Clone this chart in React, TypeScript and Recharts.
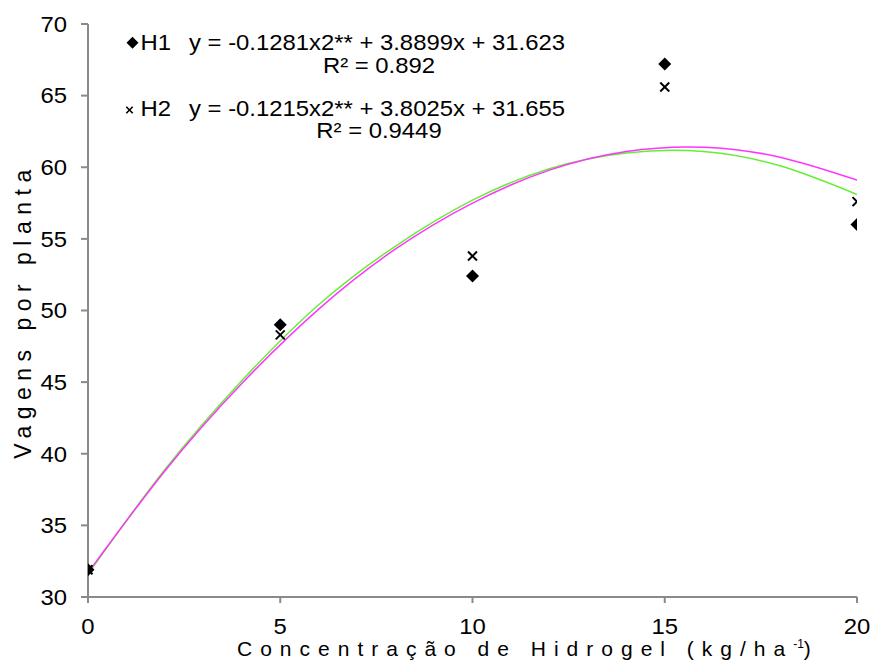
import { ComposedChart, Scatter, Line, XAxis, YAxis } from 'recharts';

// measured doses (kg/ha) and pods per plant
const doses = [0, 5, 10, 15, 20];
const h1Values = [31.9, 49.0, 52.4, 67.2, 56.0];
const h2Values = [31.9, 48.3, 53.8, 65.6, 57.6];

// trend curves
const curveX = [0, 2, 4, 6, 8, 10, 12, 14, 16, 18, 20];
const h1Curve = [31.6, 38.9, 45.1, 50.4, 54.5, 57.7, 59.9, 61.0, 61.1, 60.1, 58.1];
const h2Curve = [31.7, 38.8, 44.9, 50.1, 54.3, 57.5, 59.8, 61.1, 61.4, 60.7, 59.1];

const xTicks = [0, 5, 10, 15, 20];
const yTicks = [30, 35, 40, 45, 50, 55, 60, 65, 70];

const h1Label = 'H1';
const h2Label = 'H2';
const h1Eq = 'y = -0.1281x2** + 3.8899x + 31.623';
const h1R2 = 'R² = 0.892';
const h2Eq = 'y = -0.1215x2** + 3.8025x + 31.655';
const h2R2 = 'R² = 0.9449';

const FONT = '"Liberation Sans", Arial, sans-serif';
const AXIS = '#8a8a8a';
const SX = 1.085; // the source text is a bit wider than it is tall

const h1Points = doses.map((x, i) => ({ x, y: h1Values[i] }));
const h2Points = doses.map((x, i) => ({ x, y: h2Values[i] }));
const h1Line = curveX.map((x, i) => ({ x, y: h1Curve[i] }));
const h2Line = curveX.map((x, i) => ({ x, y: h2Curve[i] }));

const Diamond = ({ cx, cy, r = 6.5 }: any) => (
  <polygon points={`${cx},${cy - r} ${cx + r},${cy} ${cx},${cy + r} ${cx - r},${cy}`} fill="#000" />
);

const Cross = ({ cx, cy, r = 4.5, w = 2 }: any) => (
  <g stroke="#000" strokeWidth={w}>
    <line x1={cx - r} y1={cy - r} x2={cx + r} y2={cy + r} />
    <line x1={cx - r} y1={cy + r} x2={cx + r} y2={cy - r} />
  </g>
);

const StretchText = ({ x, y, anchor = 'start', size = 22, children, dy }: any) => (
  <g transform={`translate(${x},${y}) scale(${SX},1)`}>
    <text x={0} y={0} dy={dy} textAnchor={anchor} fontFamily={FONT} fontSize={size} fill="#000">
      {children}
    </text>
  </g>
);

const XTick = ({ x, y, payload }: any) => (
  <StretchText x={x} y={y} anchor="middle" dy="0.71em">{payload.value}</StretchText>
);

const YTick = ({ x, y, payload }: any) => (
  <StretchText x={x} y={y} anchor="end" dy="0.355em">{payload.value}</StretchText>
);

export default function App() {
  return (
    <div style={{ position: 'absolute', left: 0, top: 0, width: 872, height: 662, background: '#fff' }}>
      <ComposedChart width={872} height={662} margin={{ top: 24, right: 15, bottom: 0, left: 0 }}>
        <XAxis
          type="number"
          dataKey="x"
          domain={[0, 20]}
          ticks={xTicks}
          height={65}
          stroke={AXIS}
          strokeWidth={2}
          tickSize={6}
          tickMargin={15}
          tick={<XTick />}
          allowDataOverflow
        />
        <YAxis
          type="number"
          dataKey="y"
          domain={[30, 70]}
          ticks={yTicks}
          width={88}
          stroke={AXIS}
          strokeWidth={2}
          tickSize={7}
          tickMargin={14}
          tick={<YTick />}
          allowDataOverflow
        />
        <Scatter data={h1Points} shape={(p: any) => <Diamond cx={p.cx} cy={p.cy} />} isAnimationActive={false} />
        <Scatter data={h2Points} shape={(p: any) => <Cross cx={p.cx} cy={p.cy} />} isAnimationActive={false} />
        <Line data={h1Line} dataKey="y" type="natural" stroke="#66ee33" strokeWidth={1.5} dot={false} activeDot={false} isAnimationActive={false} />
        <Line data={h2Line} dataKey="y" type="natural" stroke="#ff33ff" strokeWidth={1.5} dot={false} activeDot={false} isAnimationActive={false} />
      </ComposedChart>

      <svg width={872} height={662} style={{ position: 'absolute', left: 0, top: 0, pointerEvents: 'none' }}>
        {/* legend with fitted equations */}
        <Diamond cx={132.5} cy={42.7} r={6} />
        <StretchText x={140.5} y={50}>{h1Label}</StretchText>
        <StretchText x={377} y={50} anchor="middle">{h1Eq}</StretchText>
        <StretchText x={379} y={73} anchor="middle">{h1R2}</StretchText>
        <Cross cx={129.5} cy={110} r={3.2} w={1.6} />
        <StretchText x={140.5} y={115.5}>{h2Label}</StretchText>
        <StretchText x={377} y={115.5} anchor="middle">{h2Eq}</StretchText>
        <StretchText x={379} y={138} anchor="middle">{h2R2}</StretchText>

        {/* axis titles */}
        <text x={237} y={656} fontFamily={FONT} fontSize={21} letterSpacing={8} fill="#000">
          Concentração de Hidrogel (kg/ha
          <tspan fontSize={12} dy={-8} letterSpacing={0}>-1</tspan>
          <tspan dy={8} letterSpacing={0}>)</tspan>
        </text>
        <text
          transform="translate(31,311) rotate(-90)"
          textAnchor="middle"
          fontFamily={FONT}
          fontSize={23}
          letterSpacing={6.5}
          fill="#000"
        >
          Vagens por planta
        </text>
      </svg>
    </div>
  );
}
